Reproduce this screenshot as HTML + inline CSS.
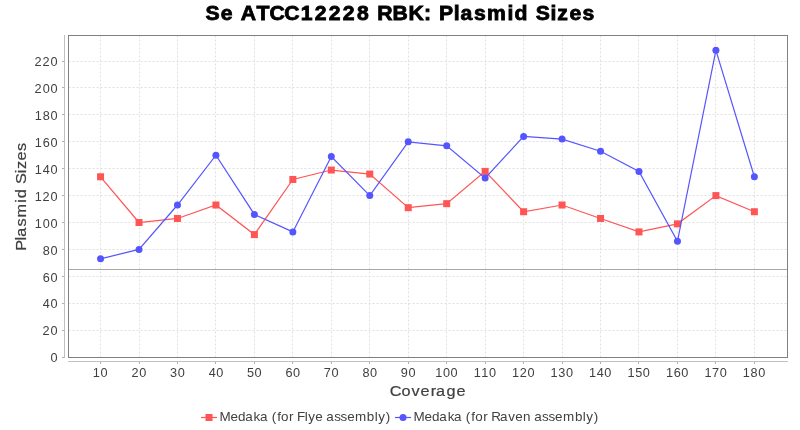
<!DOCTYPE html><html><head><meta charset="utf-8"><style>html,body{margin:0;padding:0;background:#fff;overflow:hidden}svg{display:block;will-change:transform}text{font-family:"Liberation Sans",sans-serif;white-space:pre}</style></head><body>
<svg width="800" height="430" viewBox="0 0 800 430">
<rect x="0" y="0" width="800" height="430" fill="#fff"/>
<text x="193.96 208.19 227.11 242.06 254.17 268.15 283.77 296.93 310.18 323.44 336.69 355.86 370.22 385.45 399.95 414.18 428.17 434.37 447.26 459.42 478.74 485.35 505.31 519.25 525.76 537.16 549.49" y="20.3" font-size="20.0" font-weight="bold" fill="#000" stroke="#000" stroke-width="0.8" transform="scale(1.06 1)">SeATCC12228RBK:PlasmidSizes</text>
<path d="M68.5 357.5H787M68.5 330.5H787M68.5 303.5H787M68.5 276.5H787M68.5 249.5H787M68.5 222.5H787M68.5 195.5H787M68.5 168.5H787M68.5 141.5H787M68.5 114.5H787M68.5 87.5H787M68.5 61.5H787M100.5 35.5V357M139.5 35.5V357M177.5 35.5V357M215.5 35.5V357M254.5 35.5V357M292.5 35.5V357M331.5 35.5V357M369.5 35.5V357M408.5 35.5V357M446.5 35.5V357M485.5 35.5V357M523.5 35.5V357M562.5 35.5V357M600.5 35.5V357M638.5 35.5V357M677.5 35.5V357M715.5 35.5V357M754.5 35.5V357" stroke="#e0e0e0" stroke-width="1" stroke-dasharray="2 2" fill="none"/>
<path d="M68.5 269.5H787" stroke="#a8a8a8" stroke-width="1" fill="none" shape-rendering="crispEdges"/>
<rect x="68.5" y="35.5" width="719" height="322" stroke="#808080" stroke-width="1" fill="none" shape-rendering="crispEdges"/>
<path d="M64.5 35V358M68 361.5H788" stroke="#c0c0c0" stroke-width="1" fill="none" shape-rendering="crispEdges"/>
<path d="M62 357.5H64M62 330.5H64M62 303.5H64M62 276.5H64M62 249.5H64M62 222.5H64M62 195.5H64M62 168.5H64M62 141.5H64M62 114.5H64M62 87.5H64M62 61.5H64M100.5 362V364M139.5 362V364M177.5 362V364M215.5 362V364M254.5 362V364M292.5 362V364M331.5 362V364M369.5 362V364M408.5 362V364M446.5 362V364M485.5 362V364M523.5 362V364M562.5 362V364M600.5 362V364M638.5 362V364M677.5 362V364M715.5 362V364M754.5 362V364" stroke="#b0b0b0" stroke-width="1" fill="none" shape-rendering="crispEdges"/>
<text x="50.54" y="362.20" font-size="12.7" fill="#404040">0</text>
<text x="42.47 50.54" y="335.30" font-size="12.7" fill="#404040">20</text>
<text x="42.64 50.54" y="308.40" font-size="12.7" fill="#404040">40</text>
<text x="42.64 50.54" y="281.50" font-size="12.7" fill="#404040">60</text>
<text x="42.64 50.54" y="254.60" font-size="12.7" fill="#404040">80</text>
<text x="34.67 42.64 50.54" y="227.70" font-size="12.7" fill="#404040">100</text>
<text x="34.67 42.47 50.54" y="200.80" font-size="12.7" fill="#404040">120</text>
<text x="34.67 42.64 50.54" y="173.90" font-size="12.7" fill="#404040">140</text>
<text x="34.67 42.64 50.54" y="147.00" font-size="12.7" fill="#404040">160</text>
<text x="34.67 42.64 50.54" y="120.09" font-size="12.7" fill="#404040">180</text>
<text x="34.57 42.64 50.54" y="93.19" font-size="12.7" fill="#404040">200</text>
<text x="34.57 42.47 50.54" y="66.29" font-size="12.7" fill="#404040">220</text>
<text x="92.87 100.57" y="377.0" font-size="12.7" fill="#404040">10</text>
<text x="131.46 139.25" y="377.0" font-size="12.7" fill="#404040">20</text>
<text x="170.08 177.69" y="377.0" font-size="12.7" fill="#404040">30</text>
<text x="208.68 216.32" y="377.0" font-size="12.7" fill="#404040">40</text>
<text x="246.93 254.61" y="377.0" font-size="12.7" fill="#404040">50</text>
<text x="285.48 293.11" y="377.0" font-size="12.7" fill="#404040">60</text>
<text x="323.84 331.50" y="377.0" font-size="12.7" fill="#404040">70</text>
<text x="362.41 370.04" y="377.0" font-size="12.7" fill="#404040">80</text>
<text x="400.86 408.53" y="377.0" font-size="12.7" fill="#404040">90</text>
<text x="435.19 442.89 450.53" y="377.0" font-size="12.7" fill="#404040">100</text>
<text x="473.65 481.29 488.99" y="377.0" font-size="12.7" fill="#404040">110</text>
<text x="512.11 519.66 527.45" y="377.0" font-size="12.7" fill="#404040">120</text>
<text x="550.57 558.29 565.91" y="377.0" font-size="12.7" fill="#404040">130</text>
<text x="589.03 596.73 604.37" y="377.0" font-size="12.7" fill="#404040">140</text>
<text x="627.49 635.15 642.83" y="377.0" font-size="12.7" fill="#404040">150</text>
<text x="665.95 673.66 681.29" y="377.0" font-size="12.7" fill="#404040">160</text>
<text x="704.41 712.09 719.75" y="377.0" font-size="12.7" fill="#404040">170</text>
<text x="742.87 750.57 758.21" y="377.0" font-size="12.7" fill="#404040">180</text>
<text x="335.93 346.10 354.69 362.54 371.34 375.98 384.90 393.53" y="395.6" font-size="14.0" fill="#404040" stroke="#404040" stroke-width="0.2" transform="scale(1.16 1)">Coverage</text>
<text x="-216.15 -207.26 -204.04 -195.31 -187.51 -174.73 -170.94 -158.57 -149.30 -145.72 -138.38 -130.17" y="25.7" font-size="14.0" fill="#404040" stroke="#404040" stroke-width="0.2" transform="rotate(-90) scale(1.16 1)">PlasmidSizes</text>
<polyline points="100.55,176.77 139.01,222.50 177.47,218.46 215.93,205.01 254.39,234.60 292.85,179.46 331.31,170.04 369.77,174.08 408.23,207.70 446.69,203.67 485.15,171.39 523.61,211.74 562.07,205.01 600.53,218.46 638.99,231.91 677.45,223.84 715.91,195.60 754.37,211.74" stroke="#ff5555" stroke-width="1.2" fill="none"/><rect x="97.05" y="173.27" width="7" height="7" fill="#ff5555"/><rect x="135.51" y="219.00" width="7" height="7" fill="#ff5555"/><rect x="173.97" y="214.96" width="7" height="7" fill="#ff5555"/><rect x="212.43" y="201.51" width="7" height="7" fill="#ff5555"/><rect x="250.89" y="231.10" width="7" height="7" fill="#ff5555"/><rect x="289.35" y="175.96" width="7" height="7" fill="#ff5555"/><rect x="327.81" y="166.54" width="7" height="7" fill="#ff5555"/><rect x="366.27" y="170.58" width="7" height="7" fill="#ff5555"/><rect x="404.73" y="204.20" width="7" height="7" fill="#ff5555"/><rect x="443.19" y="200.17" width="7" height="7" fill="#ff5555"/><rect x="481.65" y="167.89" width="7" height="7" fill="#ff5555"/><rect x="520.11" y="208.24" width="7" height="7" fill="#ff5555"/><rect x="558.57" y="201.51" width="7" height="7" fill="#ff5555"/><rect x="597.03" y="214.96" width="7" height="7" fill="#ff5555"/><rect x="635.49" y="228.41" width="7" height="7" fill="#ff5555"/><rect x="673.95" y="220.34" width="7" height="7" fill="#ff5555"/><rect x="712.41" y="192.10" width="7" height="7" fill="#ff5555"/><rect x="750.87" y="208.24" width="7" height="7" fill="#ff5555"/>
<polyline points="100.55,258.81 139.01,249.40 177.47,205.01 215.93,155.25 254.39,214.43 292.85,231.91 331.31,156.59 369.77,195.60 408.23,141.80 446.69,145.83 485.15,178.11 523.61,136.42 562.07,139.11 600.53,151.21 638.99,171.39 677.45,241.33 715.91,50.33 754.37,176.77" stroke="#5555ff" stroke-width="1.2" fill="none"/><circle cx="100.55" cy="258.81" r="3.5" fill="#5555ff"/><circle cx="139.01" cy="249.40" r="3.5" fill="#5555ff"/><circle cx="177.47" cy="205.01" r="3.5" fill="#5555ff"/><circle cx="215.93" cy="155.25" r="3.5" fill="#5555ff"/><circle cx="254.39" cy="214.43" r="3.5" fill="#5555ff"/><circle cx="292.85" cy="231.91" r="3.5" fill="#5555ff"/><circle cx="331.31" cy="156.59" r="3.5" fill="#5555ff"/><circle cx="369.77" cy="195.60" r="3.5" fill="#5555ff"/><circle cx="408.23" cy="141.80" r="3.5" fill="#5555ff"/><circle cx="446.69" cy="145.83" r="3.5" fill="#5555ff"/><circle cx="485.15" cy="178.11" r="3.5" fill="#5555ff"/><circle cx="523.61" cy="136.42" r="3.5" fill="#5555ff"/><circle cx="562.07" cy="139.11" r="3.5" fill="#5555ff"/><circle cx="600.53" cy="151.21" r="3.5" fill="#5555ff"/><circle cx="638.99" cy="171.39" r="3.5" fill="#5555ff"/><circle cx="677.45" cy="241.33" r="3.5" fill="#5555ff"/><circle cx="715.91" cy="50.33" r="3.5" fill="#5555ff"/><circle cx="754.37" cy="176.77" r="3.5" fill="#5555ff"/>
<path d="M201 417.5H217" stroke="#ff5555" stroke-width="1.2"/>
<rect x="205.5" y="414" width="7" height="7" fill="#ff5555"/>
<text x="207.07 217.42 224.59 231.44 239.24 245.27 256.32 261.45 265.13 272.69 280.09 287.54 290.82 297.49 307.83 315.30 321.35 327.52 334.99 346.12 353.47 356.75 363.83" y="420.8" font-size="12.7" fill="#404040" transform="scale(1.06 1)">Medaka(forFlyeassembly)</text>
<path d="M395 417.5H411" stroke="#5555ff" stroke-width="1.2"/>
<circle cx="403" cy="417.5" r="3.5" fill="#5555ff"/>
<text x="390.01 400.41 407.60 414.49 422.31 428.38 439.47 444.62 448.32 455.91 463.56 471.60 479.43 486.13 493.41 503.91 511.40 517.48 523.68 531.19 542.36 549.73 553.04 560.14" y="420.8" font-size="12.7" fill="#404040" transform="scale(1.06 1)">Medaka(forRavenassembly)</text>
</svg></body></html>
